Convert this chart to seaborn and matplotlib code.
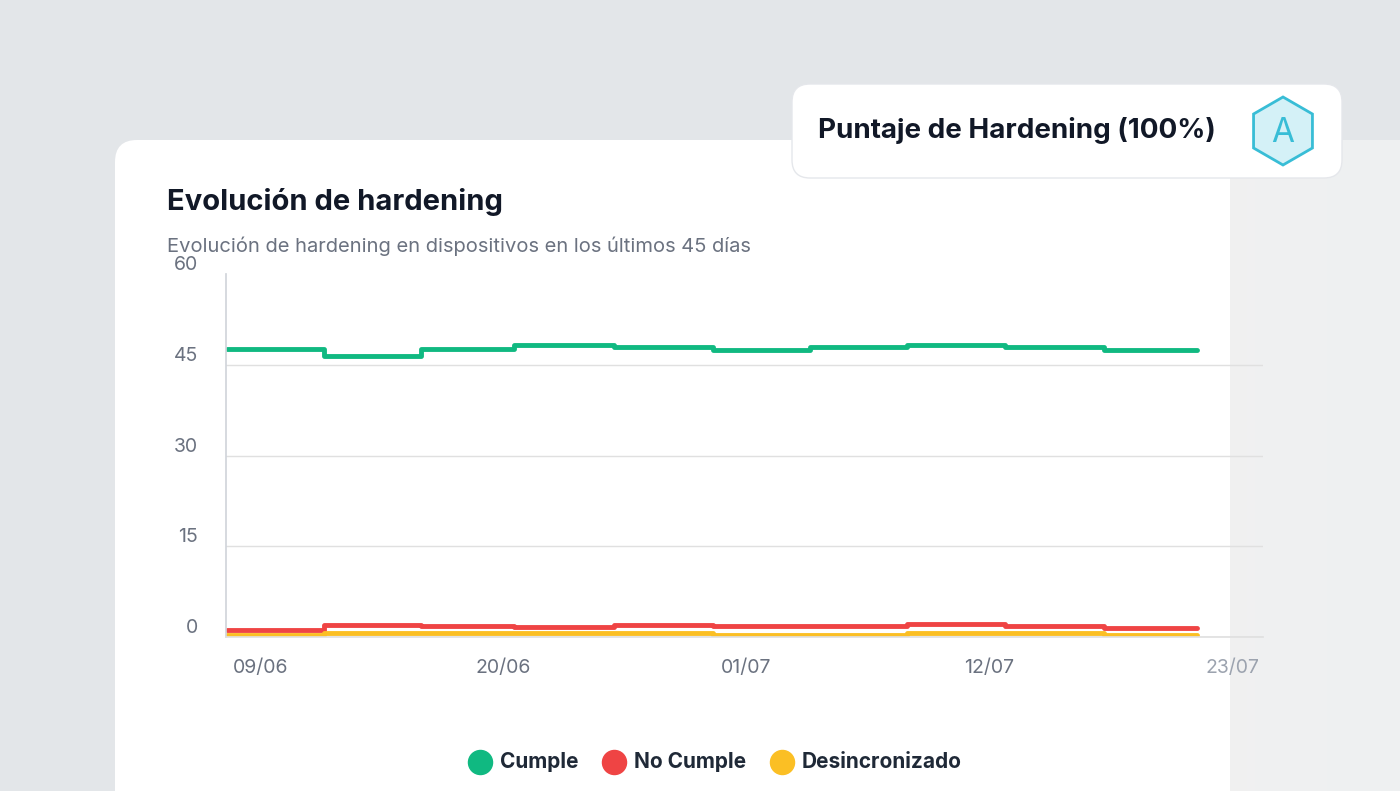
import matplotlib.pyplot as plt
import seaborn as sns
import numpy as np
import pandas as pd
from matplotlib.patches import FancyBboxPatch, RegularPolygon

sns.set_theme(style="white")
plt.rcParams['font.family'] = ['Inter', 'DejaVu Sans']

# days relative to 09/06
breaks = [-1.5, 2.9, 7.3, 11.5, 16.0, 20.5, 24.9, 29.3, 33.7, 38.2, 42.4]
cumple = [47.6, 46.4, 47.6, 48.3, 47.9, 47.4, 47.9, 48.3, 47.9, 47.4]
no_cumple = [1.2, 2.0, 1.8, 1.6, 2.0, 1.8, 1.8, 2.2, 1.8, 1.5]
desinc = [0.3, 0.6, 0.6, 0.6, 0.6, 0.3, 0.3, 0.6, 0.6, 0.3]
tick_days = [0, 11, 22, 33, 44]
tick_labels = ['09/06', '20/06', '01/07', '12/07', '23/07']
series = {'Cumple': cumple, 'No Cumple': no_cumple, 'Desincronizado': desinc}
colors = {'Cumple': '#10b981', 'No Cumple': '#ef4444', 'Desincronizado': '#fbbf24'}

rows = []
for name, vals in series.items():
    for i, v in enumerate(vals):
        rows.append((name, breaks[i], v))
        rows.append((name, breaks[i + 1], v))
df = pd.DataFrame(rows, columns=['serie', 'day', 'value'])

fig = plt.figure(figsize=(14, 7.91), dpi=100)
fig.patch.set_facecolor('#e3e6e9')
bg = fig.add_axes([0, 0, 1, 1], zorder=-10)
bg.set_axis_off()
bg.set_xlim(0, 1400); bg.set_ylim(791, 0)
bg.add_patch(FancyBboxPatch((115, 140), 1400, 800, boxstyle="round,pad=0,rounding_size=22",
                            fc='white', ec='none'))
grad = np.linspace(0, 1, 256)[None, :]
bg.imshow(grad, extent=[1230, 1400, 791, 140], cmap=sns.light_palette('#eef0f2', as_cmap=True),
          aspect='auto', zorder=2)
bg.add_patch(FancyBboxPatch((792, 84), 550, 94, boxstyle="round,pad=0,rounding_size=18",
                            fc='white', ec='#e5e7eb', lw=1, zorder=3))
bg.text(818, 131, 'Puntaje de Hardening (100%)', fontsize=20, fontweight='bold', color='#111827', va='center', zorder=4)
bg.add_patch(RegularPolygon((1283, 131), 6, radius=34, orientation=0, fc='#d4f1f7', ec='#38bdd6', lw=2, zorder=4))
bg.text(1283, 133, 'A', fontsize=24, color='#38bdd6', ha='center', va='center', zorder=5)
bg.text(167, 202, 'Evolución de hardening', fontsize=21, fontweight='bold', color='#111827', va='center')
bg.text(167, 246, 'Evolución de hardening en dispositivos en los últimos 45 días', fontsize=14.5, color='#6b7280', va='center')

ax = fig.add_axes([226 / 1400, 1 - 637 / 791, (1263 - 226) / 1400, (637 - 274) / 791])
ax.patch.set_alpha(0)
sns.lineplot(data=df, x='day', y='value', hue='serie', palette=colors, linewidth=3.5,
             legend=False, ax=ax, estimator=None, sort=False)
ax.set_xlim(-1.55, 45.4)
ax.set_ylim(0, 60)
ax.set_yticks([0, 15, 30, 45, 60])
ax.set_xticks(tick_days)
ax.set_xticklabels(tick_labels)
ax.yaxis.grid(True, color='#e0e0e0', lw=1)
ax.get_ygridlines()[-1].set_visible(False)
for s in ['top', 'right']:
    ax.spines[s].set_visible(False)
ax.spines['left'].set_color('#d1d5db')
ax.spines['bottom'].set_color('#e0e0e0')
ax.tick_params(axis='y', length=0, pad=20, labelsize=14, labelcolor='#6b7280')
ax.tick_params(axis='x', length=0, pad=16, labelsize=14, labelcolor='#6b7280')
for lbl in ax.get_yticklabels():
    lbl.set_va('bottom')
ax.get_xticklabels()[-1].set_color('#9ca3af')
ax.set_xlabel(''); ax.set_ylabel('')

for name, x in zip(series, [480, 614, 782]):
    bg.scatter([x], [762], s=300, color=colors[name], zorder=5)
    bg.text(x + 20, 762, name, fontsize=15, fontweight='bold', color='#1f2937', va='center')
fig.savefig('out.png', dpi=100)
